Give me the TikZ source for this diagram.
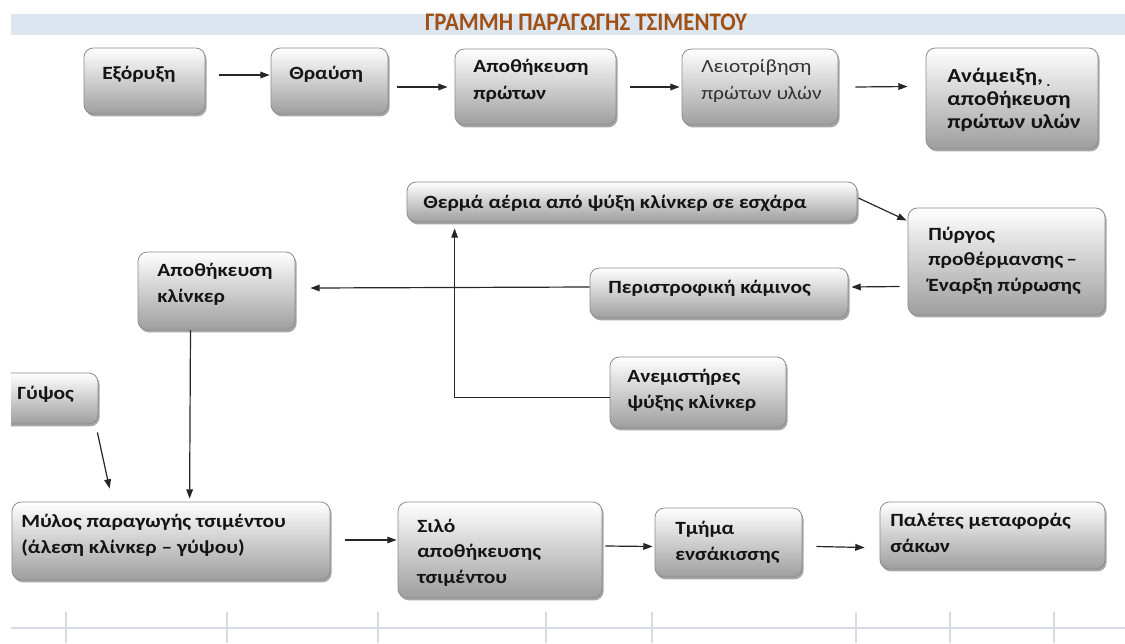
\documentclass[tikz,border=0pt]{standalone}
\usepackage{fontspec}
\setmainfont{Carlito}[FakeStretch=1.15]
\newfontfamily\titlefont{Carlito}[FakeStretch=0.9]
\usetikzlibrary{shadows,fit,calc,arrows.meta}
\definecolor{titlebrown}{RGB}{160,80,20}
\definecolor{bandblue}{RGB}{220,230,241}
\definecolor{gridgray}{RGB}{215,220,228}
\begin{document}
\begin{tikzpicture}[x=0.75pt,y=-0.75pt,
  box/.style={draw=black!45, line width=0.6pt, rounded corners=7pt, inner sep=0pt,
    top color=white, bottom color=black!38,
    drop shadow={shadow xshift=1.2pt, shadow yshift=-1.8pt, opacity=0.35, fill=black}},
  txt/.style={anchor=base west, inner sep=0pt, align=left, text=black!92,
    font=\bfseries\fontsize{14}{19}\selectfont},
  arr/.style={-{Triangle[length=7pt,width=5pt]}, line width=0.9pt, black!85},
  gridline/.style={gridgray, line width=0.8pt}]
\useasboundingbox (0,0) rectangle (1125,643);

% title band
\fill[bandblue] (11,14) rectangle (1125,35);
\node[inner sep=0pt, text=titlebrown, font=\titlefont\bfseries\fontsize{19}{22}\selectfont] (title) at (586,22.5) {ΓΡΑΜΜΗ ΠΑΡΑΓΩΓΗΣ ΤΣΙΜΕΝΤΟΥ};

% bottom sheet grid
\draw[gridline] (11,628) -- (1125,628);
\foreach \gx in {66,227,378,546,652,856,950,1054}
  \draw[gridline] (\gx,612) -- (\gx,643);

% boxes
\node[box, fit={(84,48) (205,114)}] (b1) {};
\node[box, fit={(271,48) (388,114)}] (b2) {};
\node[box, fit={(455,49) (616,125)}] (b3) {};
\node[box, fit={(682,49) (838,125)}] (b4) {};
\node[box, fit={(926,48) (1098,149)}] (b5) {};
\node[box, fit={(407,182) (857,222)}] (b6) {};
\node[box, fit={(908,208) (1105,315)}] (b7) {};
\node[box, fit={(590,268) (848,318)}] (b8) {};
\node[box, fit={(138,252) (295,330)}] (b9) {};
\node[box, fit={(610,357) (786,428)}] (b10) {};
\begin{scope}
  \clip (11,300) rectangle (300,460);
  \node[box, fit={(-20,373) (98,424)}] (b11) {};
\end{scope}
\node[box, fit={(12,502) (330,580)}] (b12) {};
\node[box, fit={(398,502) (602,598)}] (b13) {};
\node[box, fit={(655,508) (802,577)}] (b14) {};
\node[box, fit={(880,502) (1105,569)}] (b15) {};

% texts (multi-line nodes: base = last line)
\node[txt] (t1) at (102,79) {Εξόρυξη};
\node[txt] (t2) at (289,79) {Θραύση};
\node[txt, font=\bfseries\fontsize{14}{20}\selectfont] (t3) at (473,99) {Αποθήκευση\\πρώτων};
\node[txt, font=\fontsize{14}{20}\selectfont, text=black!80] (t4) at (701,99) {Λειοτρίβηση\\πρώτων υλών};
\node[txt, font=\bfseries\fontsize{15}{17}\selectfont] (t5) at (947,128) {Ανάμειξη,\\αποθήκευση\\πρώτων υλών};
\node[txt, font=\bfseries\fontsize{10}{12}\selectfont] (t5dot) at (1046,86) {.};
\node[txt] (t6) at (423,208) {Θερμά αέρια από ψύξη κλίνκερ σε εσχάρα};
\node[txt] (t7) at (928,291) {Πύργος\\προθέρμανσης\,--\\Έναρξη πύρωσης};
\node[txt] (t8) at (608,293) {Περιστροφική κάμινος};
\node[txt] (t9) at (157,302) {Αποθήκευση\\κλίνκερ};
\node[txt] (t10) at (627,408) {Ανεμιστήρες\\ψύξης κλίνκερ};
\node[txt] (t11) at (17,399) {Γύψος};
\node[txt] (t12) at (21,553) {Μύλος παραγωγής τσιμέντου\\(άλεση κλίνκερ -- γύψου)};
\node[txt] (t13) at (417,583) {Σιλό\\αποθήκευσης\\τσιμέντου};
\node[txt] (t14) at (675,560) {Τμήμα\\ενσάκισσης};
\node[txt] (t15) at (890,552) {Παλέτες μεταφοράς\\σάκων};

% connectors
\draw[arr] ($(b1.east)+(14,-6)$) -- ($(b2.west)+(-1,-6)$);
\draw[arr] ($(b2.east)+(9,6)$) -- ($(b3.west)+(-7,-0)$);
\draw[arr] ($(b3.east)+(14,0)$) -- ($(b4.west)+(-2,0)$);
\draw[arr] ($(b4.east)+(17,0)$) -- ($(b5.west)+(-18,-12)$);
\draw[arr] ($(b6.east)+(1,-4)$) -- ($(b7.west)+(-1,-41)$);
\draw[arr] ($(b7.west)+(-8,25)$) -- ($(b8.east)+(3,-6)$);
\draw[arr] ($(b8.west)+(0,-6)$) -- ($(b9.east)+(15,-3)$);
\draw[arr] ($(b10.west)+(0,5)$) -| ($(b6.south west)+(48,6)$);
\draw[arr] ($(b9.south)+(-26,0)$) -- ($(b12.north west)+(178,-3)$);
\draw[arr] ($(b11.south east)+(-1,8)$) -- ($(b12.north west)+(98,-13)$);
\draw[arr] ($(b12.east)+(15,-1)$) -- ($(b13.west)+(-1,-10)$);
\draw[arr] ($(b13.east)+(3,-4)$) -- ($(b14.west)+(-2,4)$);
\draw[arr] ($(b14.east)+(14,4)$) -- ($(b15.west)+(-15,12)$);
\end{tikzpicture}
\end{document}
